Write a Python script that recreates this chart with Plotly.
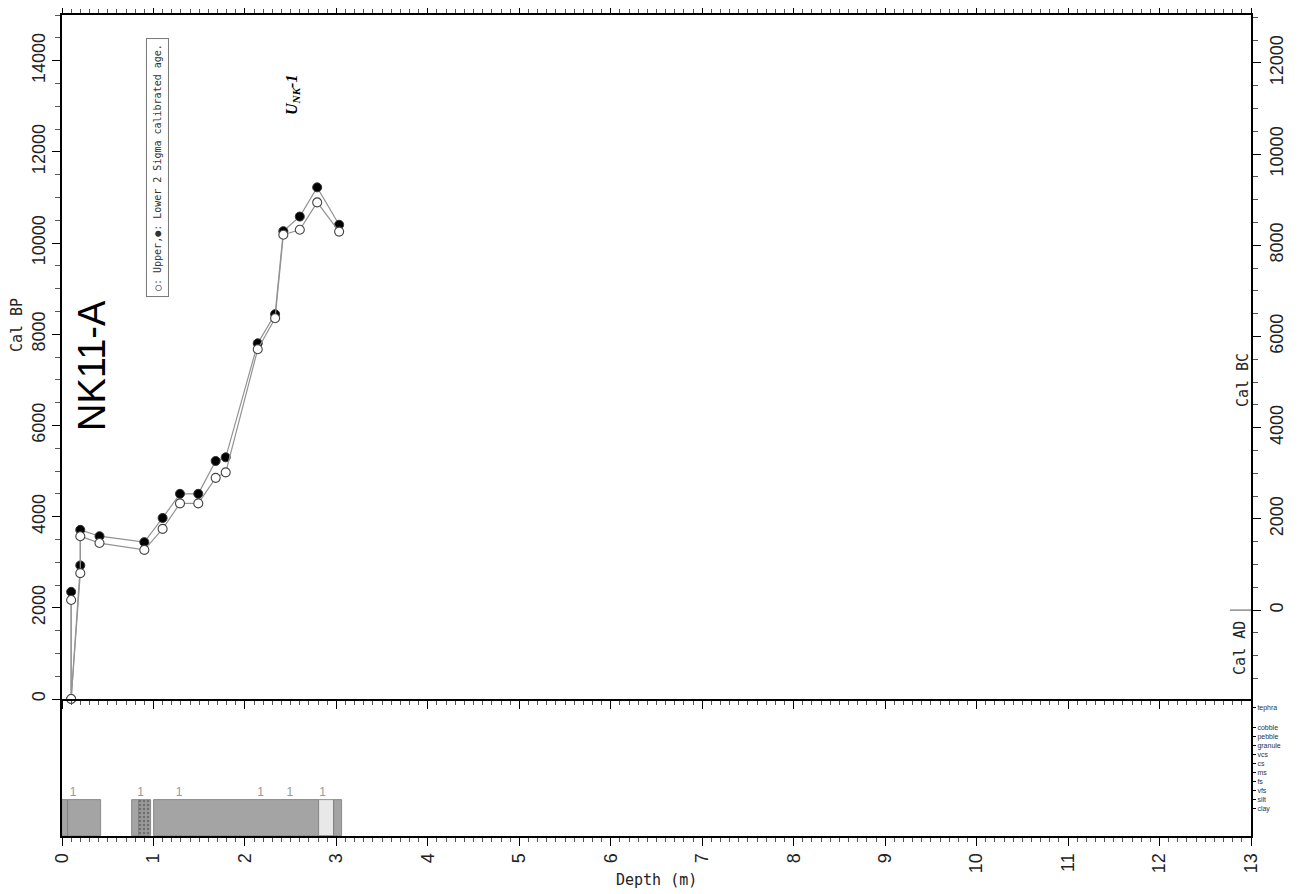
import plotly.graph_objects as go

# ---- data ----
depth = [0.10, 0.10, 0.20, 0.20, 0.41, 0.90, 1.10, 1.29, 1.49, 1.68, 1.79, 2.14, 2.33, 2.42, 2.60, 2.79, 3.03]
upper_bp = [2170, 0, 2760, 3570, 3420, 3270, 3730, 4290, 4290, 4850, 4970, 7670, 8350, 10180, 10290, 10890, 10250]
lower_bp = [2350, 0, 2930, 3710, 3570, 3440, 3970, 4500, 4500, 5220, 5300, 7800, 8440, 10260, 10580, 11220, 10400]

layer_top = [0.00, 0.07, 0.765, 0.845, 1.006, 2.813, 2.974]
layer_bot = [0.07, 0.43, 0.845, 0.973, 2.813, 2.974, 3.058]
layer_grain = [4, 4, 4, 4, 4, 4, 4]
layer_color = ["#a4a4a4", "#a4a4a4", "#a4a4a4", "#9a9a9a", "#a4a4a4", "#e8e8e8", "#a4a4a4"]
layer_pattern = ["", "", "", ".", "", "", ""]

sample_depth = [0.12, 0.86, 1.28, 2.17, 2.49, 2.85]
sample_level = [4.8, 4.8, 4.8, 4.8, 4.8, 4.8]

grain_names = ["clay", "silt", "vfs", "fs", "ms", "cs", "vcs", "granule", "pebble", "cobble", "tephra"]
grain_pos = [3, 4, 5, 6, 7, 8, 9, 10, 11, 12, 14.3]

bp_ticks = [0, 2000, 4000, 6000, 8000, 10000, 12000, 14000]
bc_ticks = [0, 2000, 4000, 6000, 8000, 10000, 12000]
depth_ticks = list(range(0, 14))

OFFSET = 1950  # Cal BC = Cal BP - 1950
ad_bc_mark_x = [12.77, 13.0]
ad_bc_mark_y = [0, 0]

fig = go.Figure()

# lithology column
mid = [(a + b) / 2 for a, b in zip(layer_top, layer_bot)]
wid = [b - a for a, b in zip(layer_top, layer_bot)]
fig.add_trace(go.Bar(
    x=mid, y=layer_grain, width=wid, base=0,
    marker=dict(color=layer_color, line=dict(color="#7a7a7a", width=0.8),
                pattern=dict(shape=layer_pattern, fgcolor="#555555", size=4, solidity=0.3)),
    xaxis="x", yaxis="y2", showlegend=False, hoverinfo="skip"))

fig.add_trace(go.Scatter(
    x=sample_depth, y=sample_level, mode="text", text=["1"] * len(sample_depth),
    textfont=dict(family="Liberation Sans", size=12, color="#999999"),
    xaxis="x", yaxis="y2", showlegend=False, hoverinfo="skip"))

# age curves
lower_colors = ["black"] * len(lower_bp)
lower_colors[1] = "white"
fig.add_trace(go.Scatter(
    x=depth, y=lower_bp, mode="lines+markers", cliponaxis=False,
    line=dict(color="#939393", width=1.2),
    marker=dict(size=9, color=lower_colors, line=dict(color="#333333", width=1)),
    xaxis="x", yaxis="y", showlegend=False))
fig.add_trace(go.Scatter(
    x=depth, y=upper_bp, mode="lines+markers", cliponaxis=False,
    line=dict(color="#939393", width=1.2),
    marker=dict(size=9, color="white", line=dict(color="#444444", width=1.1)),
    xaxis="x", yaxis="y", showlegend=False))

# Cal AD / Cal BC boundary mark on the Cal BC axis
fig.add_trace(go.Scatter(x=ad_bc_mark_x, y=ad_bc_mark_y, mode="lines",
                         line=dict(color="#555", width=1), xaxis="x", yaxis="y3",
                         showlegend=False, hoverinfo="skip"))

# invisible traces so the extra axes are drawn
for xa, ya in [("x2", "y"), ("x3", "y")]:
    fig.add_trace(go.Scatter(x=[1], y=[1], mode="markers", marker=dict(opacity=0),
                             xaxis=xa, yaxis=ya, showlegend=False, hoverinfo="skip"))

tickfont = dict(family="Liberation Sans Narrow, Liberation Sans, Arial", size=18, color="#222")
lower_frac = 137 / 821
xminor = dict(dtick=0.1, ticks="outside", ticklen=4, tickcolor="#555")

# the page body has an 8px margin, so the figure is sized and placed to compensate
fig.update_layout(
    width=1291, height=886,
    margin=dict(l=54, r=48, t=7, b=58),
    paper_bgcolor="white", plot_bgcolor="white",
    bargap=0,
    xaxis=dict(domain=[0, 1], anchor="y2", range=[0, 13], tickmode="array",
               tickvals=depth_ticks, ticktext=[str(v) for v in depth_ticks],
               ticks="outside", ticklen=8, tickwidth=1, tickcolor="black",
               minor=xminor, automargin=False,
               tickangle=-90, tickfont=tickfont, showline=True, linewidth=2,
               linecolor="black", showgrid=False, zeroline=False),
    xaxis2=dict(overlaying="x", anchor="y", range=[0, 13], tick0=0, dtick=1,
                showticklabels=False, ticks="outside", ticklen=8, tickcolor="black",
                minor=xminor, automargin=False,
                showline=True, linewidth=2, linecolor="black", showgrid=False, zeroline=False),
    xaxis3=dict(overlaying="x", anchor="y", side="top", range=[0, 13], tick0=0, dtick=1,
                showticklabels=False, ticks="outside", ticklen=9, tickcolor="black",
                minor=xminor, automargin=False,
                showline=True, linewidth=2, linecolor="black", showgrid=False, zeroline=False),
    yaxis=dict(domain=[lower_frac, 1], anchor="x", range=[0, 15000],
               tickmode="array", tickvals=bp_ticks, ticktext=[str(v) for v in bp_ticks],
               tickangle=-90, tickfont=tickfont, ticks="outside", ticklen=8, tickcolor="black",
               minor=dict(dtick=500, ticks="outside", ticklen=5, tickcolor="#555"),
               automargin=False,
               showline=True, linewidth=2, linecolor="black", showgrid=False, zeroline=False),
    yaxis3=dict(overlaying="y", side="right", anchor="x", range=[-OFFSET, 15000 - OFFSET],
                tickmode="array", tickvals=bc_ticks, ticktext=[str(v) for v in bc_ticks],
                tickangle=-90, tickfont=tickfont,
                ticks="outside", ticklen=8, tickcolor="black",
                minor=dict(tick0=0, dtick=500, ticks="outside", ticklen=5, tickcolor="#555"),
                automargin=False,
                showline=True, linewidth=2, linecolor="black", showgrid=False, zeroline=False),
    yaxis2=dict(domain=[0, lower_frac], anchor="x", side="right", range=[0, 15.2],
                tickmode="array", tickvals=grain_pos, ticktext=grain_names,
                tickfont=dict(family="Liberation Sans Narrow, Liberation Sans", size=7, color="#333"),
                ticks="outside", ticklen=3, tickcolor="black", automargin=False,
                showline=True, mirror=True, linewidth=2, linecolor="black",
                showgrid=False, zeroline=False),
)

mono = "DejaVu Sans Mono, Liberation Mono, monospace"


def note(text, x, y, font, **kw):
    fig.add_annotation(text=text, x=x, y=y, xref="paper", yref="paper",
                       xanchor="center", yanchor="middle", textangle=-90,
                       showarrow=False, font=font, **kw)


note("NK11-A", 0.0252, 0.5737,
     dict(family="Liberation Sans Narrow, Liberation Sans, Arial", size=38, color="black"))
note("○: Upper,●: Lower 2 Sigma calibrated age.", 0.0799, 0.8136,
     dict(family=mono, size=10, color="#333"),
     bordercolor="#777", borderwidth=1, borderpad=5, bgcolor="white")
note("<b><i>U<sub>NK</sub>-1</i></b>", 0.1943, 0.9026,
     dict(family="Liberation Serif, Times New Roman, serif", size=16, color="black"))
note("Cal BP", -0.0378, 0.6224, dict(family=mono, size=15, color="#222"))
note("Cal BC", 0.9933, 0.5554, dict(family=mono, size=15, color="#222"))
note("Cal AD", 0.9907, 0.229, dict(family=mono, size=15, color="#222"))
fig.add_annotation(text="Depth (m)", x=0.5004, y=-0.0536, xref="paper", yref="paper",
                   xanchor="center", yanchor="middle", showarrow=False,
                   font=dict(family=mono, size=15, color="#222"))

fig.write_html("out.html")
